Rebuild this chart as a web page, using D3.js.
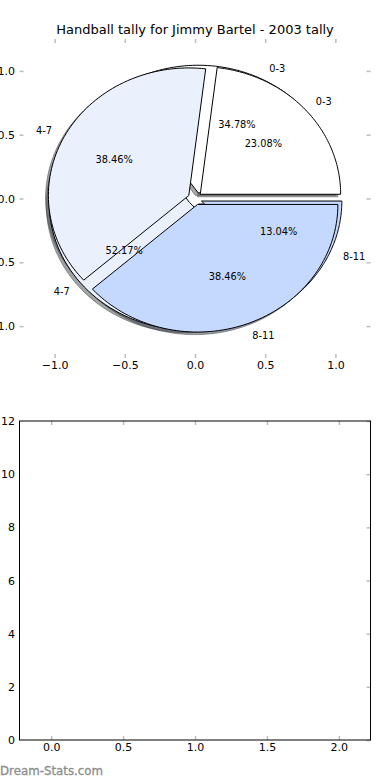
<!DOCTYPE html>
<html>
<head>
<meta charset="utf-8">
<script src="https://d3js.org/d3.v7.min.js"></script>
<style>
  body { margin: 0; background: #fff; }
  text { font-family: "DejaVu Sans", sans-serif; }
</style>
</head>
<body>
<div id="chart"></div>
<script>
// chart data
var chartTitle = "Handball tally for Jimmy Bartel - 2003 tally";
var categories = ["0-3", "4-7", "8-11"];
var tallyFirst = [8, 12, 3];   // drawn underneath
var tallySecond = [3, 5, 5];   // drawn on top
var sliceColors = ["#ffffff", "#eaf0fc", "#c5d8fd"];
var explode = [0.05, 0.05, 0.05];
var pieTicks = [-1.0, -0.5, 0.0, 0.5, 1.0];
var lowerXTicks = [0.0, 0.5, 1.0, 1.5, 2.0];
var lowerYTicks = [0, 2, 4, 6, 8, 10, 12];
var watermark = "Dream-Stats.com";

var svgWidth = 390, svgHeight = 780;
var left = 19.5, right = 370.5;

var svg = d3.select("#chart").append("svg")
  .attr("width", svgWidth)
  .attr("height", svgHeight);

// ---------- top axes (pie) ----------
var top1 = 39, bottom1 = 358;
var x1 = d3.scaleLinear().domain([-1.25, 1.25]).range([left, right]);
var y1 = d3.scaleLinear().domain([-1.25, 1.25]).range([bottom1, top1]);

svg.append("text")
  .attr("x", (left + right) / 2)
  .attr("y", 33.5)
  .attr("text-anchor", "middle")
  .attr("font-size", "13px")
  .attr("fill", "#000")
  .text(chartTitle);

function styleAxis(g) {
  g.select(".domain").remove();
  g.selectAll(".tick line").attr("stroke", "#bdbdbd").attr("stroke-width", 1.5);
  g.selectAll(".tick text").attr("font-size", "11px").attr("fill", "#000")
    .attr("font-family", "DejaVu Sans, sans-serif");
}

var fmt1 = d3.format(".1f");

svg.append("g").attr("transform", `translate(0, ${bottom1})`)
  .call(d3.axisBottom(x1).tickValues(pieTicks).tickFormat(fmt1).tickSizeInner(-4).tickSizeOuter(0).tickPadding(3.5))
  .call(styleAxis);
svg.append("g").attr("transform", `translate(0, ${top1})`)
  .call(d3.axisTop(x1).tickValues(pieTicks).tickFormat("").tickSizeInner(-4).tickSizeOuter(0))
  .call(styleAxis);
svg.append("g").attr("transform", `translate(${left}, 0)`)
  .call(d3.axisLeft(y1).tickValues(pieTicks).tickFormat(fmt1).tickSizeInner(-4).tickSizeOuter(0).tickPadding(4.5))
  .call(styleAxis);
svg.append("g").attr("transform", `translate(${right}, 0)`)
  .call(d3.axisRight(y1).tickValues(pieTicks).tickFormat("").tickSizeInner(-4).tickSizeOuter(0))
  .call(styleAxis);

// pie angles: d3.pie runs clockwise from 12 o'clock, so go backwards from pi/2
// to get matplotlib's counter-clockwise layout starting at 3 o'clock
var pie = d3.pie().sort(null).startAngle(Math.PI / 2).endAngle(Math.PI / 2 - 2 * Math.PI);

function wedges(values) {
  var total = d3.sum(values);
  return pie(values).map((d, i) => {
    var t1 = Math.PI / 2 - d.startAngle;
    var t2 = Math.PI / 2 - d.endAngle;
    var tm = (t1 + t2) / 2;
    var cx = explode[i] * Math.cos(tm), cy = explode[i] * Math.sin(tm);
    var pts = [[cx, cy]];
    var n = 80;
    for (var k = 0; k <= n; k++) {
      var t = t1 + (t2 - t1) * k / n;
      pts.push([cx + Math.cos(t), cy + Math.sin(t)]);
    }
    return {
      i: i, pts: pts, tm: tm, cx: cx, cy: cy,
      pct: (100 * values[i] / total).toFixed(2) + "%",
      label: categories[i]
    };
  });
}

var wedgeLine = d3.line().x(p => x1(p[0])).y(p => y1(p[1]));

var firstWedges = wedges(tallyFirst);
var secondWedges = wedges(tallySecond);

function darker(c) {
  var r = d3.rgb(c);
  return d3.rgb(r.r * 0.3, r.g * 0.3, r.b * 0.3).toString();
}

// shadows sit below every wedge
var sdx = x1(-0.02) - x1(0), sdy = y1(-0.02) - y1(0);
var shadowGroup = svg.append("g").attr("transform", `translate(${sdx}, ${sdy})`);
firstWedges.concat(secondWedges).forEach(w => {
  shadowGroup.append("path")
    .attr("d", wedgeLine(w.pts) + "Z")
    .attr("fill", darker(sliceColors[w.i]))
    .attr("fill-opacity", 0.5)
    .attr("stroke", darker(sliceColors[w.i]))
    .attr("stroke-opacity", 0.5);
});

[firstWedges, secondWedges].forEach(ws => {
  svg.append("g").selectAll("path")
    .data(ws)
    .enter()
    .append("path")
    .attr("d", w => wedgeLine(w.pts) + "Z")
    .attr("fill", w => sliceColors[w.i])
    .attr("stroke", "#000")
    .attr("stroke-width", 1)
    .attr("stroke-linejoin", "miter");
});

// labels and percentages
firstWedges.concat(secondWedges).forEach(w => {
  var lx = w.cx + 1.1 * Math.cos(w.tm), ly = w.cy + 1.1 * Math.sin(w.tm);
  svg.append("text")
    .attr("x", x1(lx))
    .attr("y", y1(ly))
    .attr("dy", "0.36em")
    .attr("text-anchor", lx > 0 ? "start" : "end")
    .attr("font-size", "9.8px")
    .attr("fill", "#000")
    .text(w.label);
  var px = w.cx + 0.6 * Math.cos(w.tm), py = w.cy + 0.6 * Math.sin(w.tm);
  svg.append("text")
    .attr("x", x1(px))
    .attr("y", y1(py))
    .attr("dy", "0.36em")
    .attr("text-anchor", "middle")
    .attr("font-size", "9.8px")
    .attr("fill", "#000")
    .text(w.pct);
});

// ---------- bottom axes (empty) ----------
var top2 = 421, bottom2 = 740;
var x2 = d3.scaleLinear().domain([-0.22, 2.22]).range([left, right]);
var y2 = d3.scaleLinear().domain([0, 12]).range([bottom2, top2]);

svg.append("g").attr("transform", `translate(0, ${bottom2})`)
  .call(d3.axisBottom(x2).tickValues(lowerXTicks).tickFormat(fmt1).tickSizeInner(-4).tickSizeOuter(0).tickPadding(3.5))
  .call(styleAxis);
svg.append("g").attr("transform", `translate(0, ${top2})`)
  .call(d3.axisTop(x2).tickValues(lowerXTicks).tickFormat("").tickSizeInner(-4).tickSizeOuter(0))
  .call(styleAxis);
svg.append("g").attr("transform", `translate(${left}, 0)`)
  .call(d3.axisLeft(y2).tickValues(lowerYTicks).tickFormat(d3.format("d")).tickSizeInner(0).tickSizeOuter(0).tickPadding(4.5))
  .call(styleAxis);
svg.append("g").attr("transform", `translate(${right}, 0)`)
  .call(d3.axisRight(y2).tickValues(lowerYTicks).tickFormat("").tickSizeInner(-4).tickSizeOuter(0))
  .call(styleAxis);

svg.append("rect")
  .attr("x", left)
  .attr("y", top2)
  .attr("width", right - left)
  .attr("height", bottom2 - top2)
  .attr("fill", "none")
  .attr("stroke", "#000")
  .attr("stroke-width", 1);

svg.append("text")
  .attr("x", 0)
  .attr("y", 774.5)
  .attr("font-size", "11.8px")
  .attr("fill", "#8c8c8c")
  .attr("stroke", "#8c8c8c")
  .attr("stroke-width", 0.3)
  .text(watermark);
</script>
</body>
</html>
